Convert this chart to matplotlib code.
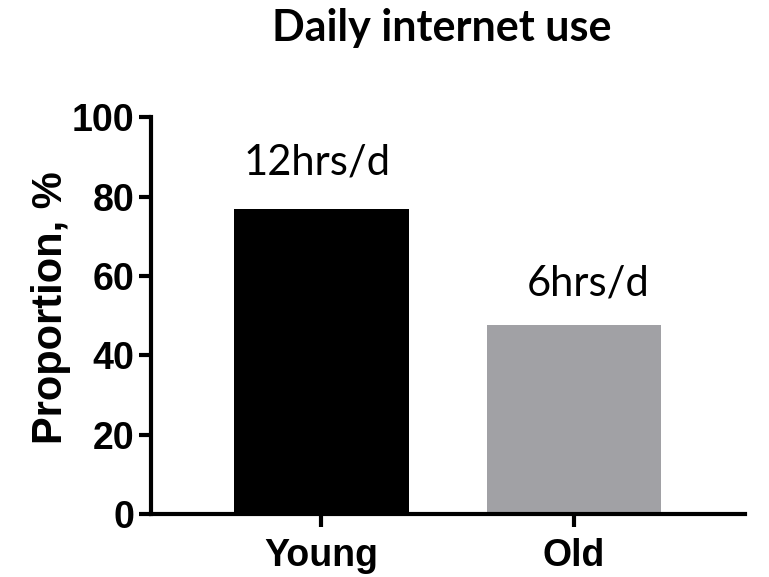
import matplotlib.pyplot as plt

groups = ['Young', 'Old']
proportion = [76.8, 47.6]
labels = ['12hrs/d', '6hrs/d']
colors = ['#000000', '#A1A1A5']

plt.rcParams['font.family'] = ['Liberation Sans', 'DejaVu Sans']
plt.rcParams['font.weight'] = 'bold'

fig = plt.figure(figsize=(7.69, 5.77), dpi=100)
ax = fig.add_axes([0.196, 0.109, 0.773, 0.688])

x = list(range(len(groups)))
ax.bar(x, proportion, width=0.69, color=colors)

# hours labels above bars
offsets = [(-3, 25), (10, 21)]
for xi, v, lab, off in zip(x, proportion, labels, offsets):
    ax.annotate(lab, (xi, v), xytext=off, textcoords='offset points',
                ha='center', va='baseline', fontsize=30, family='Lato',
                fontweight='normal')

ax.set_xlim(-0.675, 1.677)
ax.set_ylim(0, 100)
ax.set_yticks([0, 20, 40, 60, 80, 100])
ax.set_xticks(x)
ax.set_xticklabels(groups)

for s in ['top', 'right']:
    ax.spines[s].set_visible(False)
for s in ['left', 'bottom']:
    ax.spines[s].set_linewidth(3)
ax.tick_params(width=3, length=9, labelsize=27, pad=3)
ax.tick_params(axis='x', pad=8)

ax.set_ylabel('Proportion, %', fontsize=30, fontweight='bold', labelpad=0)
ax.yaxis.label.set_y(0.52)
fig.text(0.574, 0.951, 'Daily internet use', ha='center', va='center',
         fontsize=31, fontweight='bold', family='Lato')

fig.savefig('out.png', dpi=100)
